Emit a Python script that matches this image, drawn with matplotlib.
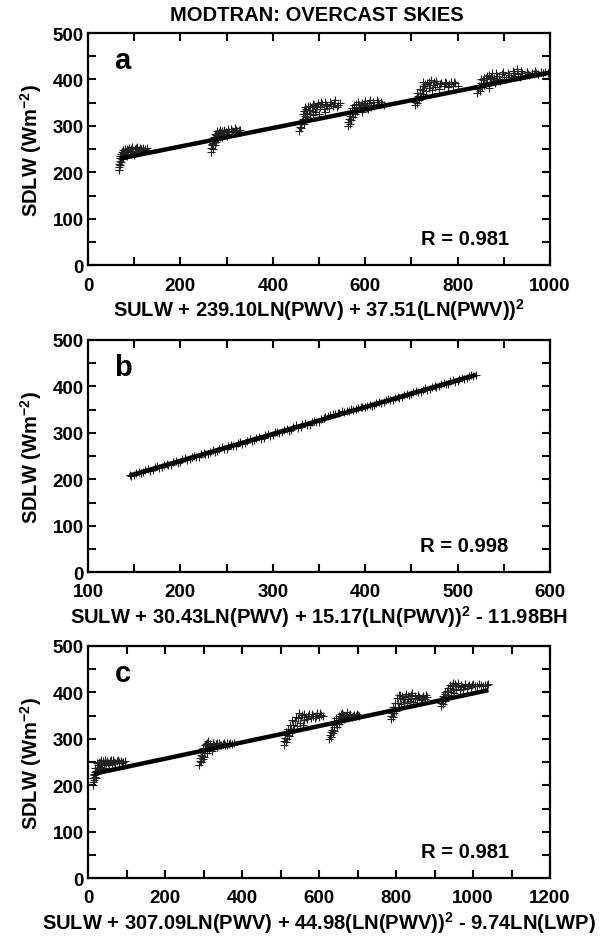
import matplotlib
matplotlib.use("Agg")
import matplotlib.pyplot as plt
from matplotlib.ticker import MultipleLocator

plt.rcParams['font.family'] = ['Liberation Sans', 'DejaVu Sans']
plt.rcParams['font.weight'] = 'bold'
plt.rcParams['mathtext.fontset'] = 'custom'
plt.rcParams['mathtext.rm'] = 'Liberation Sans:bold'
plt.rcParams['mathtext.bf'] = 'Liberation Sans:bold'

# ---------------------------------------------------------------
# panel a : SULW + 239.10LN(PWV) + 37.51(LN(PWV))^2
# ---------------------------------------------------------------
a_pts = [
    (66,205),(67,212),(68,218),(69,224),(70,215),(71,230),(72,222),(73,236),(74,228),(75,240),
    (76,233),(77,244),(78,238),(80,246),(82,240),(84,250),(86,243),(88,252),(90,246),(93,250),
    (96,254),(98,244),(101,251),(104,247),(107,254),(110,249),(113,252),(117,247),(120,253),(124,250),
    (128,252),(70,235),(74,245),(79,250),(85,236),(92,240),(100,238),
    (72,240),(76,248),(81,243),(87,248),(95,247),(103,253),(108,246),(115,250),(122,246),(127,249),
    (69,230),(73,232),
    (266,245),(267,252),(268,258),(270,250),(271,263),(273,268),(274,258),(276,273),(278,265),(280,280),
    (282,272),(284,285),(286,277),(289,290),(292,282),(295,292),(298,286),(302,294),(306,288),(310,293),
    (314,287),(318,295),(322,290),(326,292),(330,288),(270,270),(275,283),(279,290),(285,292),(290,276),
    (300,279),(272,276),(277,280),(283,288),(288,284),(294,288),(304,290),(312,289),(320,291),(328,291),
    (268,262),(281,276),
    (457,290),(458,298),(460,304),(462,296),(463,310),(465,316),(467,305),(469,322),(471,314),(473,328),
    (475,320),(478,334),(481,326),(484,340),(487,332),(490,345),(494,337),(498,350),(502,340),(506,347),
    (510,336),(514,352),(518,343),(522,338),(526,348),(530,342),(535,355),(540,345),(545,350),(468,332),
    (476,342),(492,330),(500,326),(512,330),(466,325),(472,336),(480,344),(486,348),(496,344),(504,352),
    (516,346),(524,352),(532,350),(538,340),(470,340),(488,324),
    (562,300),(563,308),(565,315),(566,305),(568,322),(570,312),(572,328),(574,319),(576,334),(578,326),
    (580,340),(583,332),(586,346),(589,338),(592,350),(596,342),(600,354),(604,345),(608,350),(612,340),
    (616,352),(620,346),(625,355),(630,348),(635,352),(640,346),(575,345),(584,352),(594,330),(606,336),
    (571,338),(579,348),(587,340),(597,348),(603,338),(610,356),(618,344),(628,352),(637,348),(567,330),
    (707,345),(708,352),(710,358),(712,349),(714,364),(716,356),(718,370),(720,362),(722,378),(725,368),
    (728,385),(731,375),(734,392),(737,382),(740,388),(744,378),(748,395),(752,384),(756,390),(760,380),
    (765,393),(770,386),(775,392),(780,383),(785,395),(790,387),(795,392),(800,385),(726,395),(742,398),
    (713,372),(719,380),(724,386),(730,390),(738,394),(746,388),(754,396),(762,390),(772,394),(782,390),
    (792,395),
    (842,372),(844,380),(846,386),(848,376),(850,392),(852,383),(855,398),(858,389),(861,404),(864,394),
    (867,410),(870,400),(874,413),(878,404),(882,398),(886,408),(890,402),(895,412),(900,405),(905,400),
    (910,414),(915,406),(920,418),(925,408),(930,412),(935,405),(940,414),(945,410),(950,416),(955,409),
    (960,413),(965,411),(970,415),(975,412),(980,416),(985,413),(990,417),(995,414),(998,416),(880,392),
    (892,396),(928,422),(868,382),(851,400),(857,404),(863,408),(872,406),(884,414),(898,416),(912,410),
    (922,414),(938,418),(952,412),(968,418),(856,392),(876,396),
]
a_fit_x = [70, 1000]
a_fit_y = [230, 415]

# ---------------------------------------------------------------
# panel b : SULW + 30.43LN(PWV) + 15.17(LN(PWV))^2 - 11.98BH
# ---------------------------------------------------------------
b_x = [145,150,155,160,165,170,175,180,185,190,195,200,205,210,215,220,225,230,235,240,
       245,250,255,260,265,270,275,280,285,290,295,300,305,310,315,320,325,330,335,340,
       345,350,355,360,365,370,375,380,385,390,395,400,405,410,415,420,425,430,435,440,
       445,450,455,460,465,470,475,480,485,490,495,500,505,510,515,520,
       147,152,157,162,167,172,177,182,187,192,197,202,207,212,217,222,227,232,237,242,
       247,252,257,262,267,272,277,282,287,292,297,302,307,312,317,322,327,332,337,342,
       347,352,357,362,367,372,377,382,387,392,397,402,407,412,417,422,427,432,437,442,
       447,452,457,462,467,472,477,482,487,492,497,502,507,512,517]
b_y = [209,209,216,215,222,221,228,226,233,232,240,238,245,243,251,249,257,255,263,261,
       269,266,274,272,280,278,286,284,292,289,297,296,303,301,309,307,316,313,321,318,
       326,324,333,336,341,343,347,348,351,352,355,356,361,360,367,366,373,371,378,377,
       384,383,390,389,396,394,401,400,407,406,413,412,419,418,424,425,
       207,214,213,220,219,226,225,231,231,237,236,243,242,249,248,255,254,260,260,266,
       265,272,271,278,277,283,282,289,288,295,294,301,300,307,305,313,311,319,317,324,
       323,330,334,338,340,343,345,348,349,353,355,358,358,365,364,370,370,376,375,382,
       381,388,387,393,393,399,399,405,405,411,410,417,416,422,422]
b_fit_x = [145, 520]
b_fit_y = [208, 425]

# ---------------------------------------------------------------
# panel c : SULW + 307.09LN(PWV) + 44.98(LN(PWV))^2 - 9.74LN(LWP)
# ---------------------------------------------------------------
c_pts = [
    (12,200),(13,208),(14,215),(15,222),(16,212),(17,228),(18,218),(20,232),(22,224),(24,238),
    (26,230),(28,243),(30,236),(32,248),(35,240),(38,252),(41,245),(44,255),(47,248),(50,253),
    (54,245),(58,252),(62,247),(66,254),(70,249),(75,252),(80,250),(85,253),(90,251),(95,252),
    (20,215),(25,245),(34,254),(42,238),(19,238),(23,248),(29,250),(36,246),(45,250),(52,249),
    (60,255),(68,250),(78,254),(88,248),(16,225),
    (289,245),(290,252),(292,258),(294,250),(296,264),(298,257),(300,270),(302,262),(305,277),(308,269),
    (311,284),(314,276),(317,290),(320,282),(324,292),(328,285),(332,290),(336,283),(340,292),(345,286),
    (350,290),(355,288),(360,292),(365,289),(370,291),(375,290),(380,292),(306,290),(312,295),(322,275),
    (299,280),(304,286),(310,292),(318,286),(326,288),(334,292),(342,288),(352,292),(362,288),(293,265),
    (509,288),(510,296),(512,302),(514,294),(516,308),(518,300),(520,315),(523,307),(526,322),(529,314),
    (532,330),(535,321),(538,338),(542,328),(546,345),(550,335),(555,352),(560,340),(565,348),(570,342),
    (575,353),(580,345),(585,350),(590,344),(595,355),(600,348),(605,352),(610,349),(558,330),(548,355),
    (519,322),(525,330),(531,340),(540,348),(552,348),(562,354),(572,350),(582,354),(592,350),(602,355),
    (515,315),
    (627,300),(628,308),(630,314),(632,305),(634,320),(636,312),(638,326),(640,318),(643,332),(646,325),
    (649,340),(652,332),(655,346),(658,338),(662,352),(666,343),(670,350),(675,345),(680,353),(685,347),
    (690,352),(695,349),(700,351),(705,350),(660,356),(672,358),(633,330),(639,338),(645,345),(651,350),
    (657,354),(664,348),(677,352),(688,350),(698,354),
    (787,343),(788,350),(790,356),(792,348),(794,362),(796,355),(798,368),(801,360),(804,378),(807,368),
    (810,388),(813,375),(816,392),(820,380),(824,390),(828,378),(832,392),(836,382),(840,388),(845,380),
    (850,393),(855,385),(860,390),(865,383),(870,392),(875,386),(880,390),(808,395),(826,396),(842,398),
    (791,368),(797,378),(803,388),(811,394),(818,386),(830,386),(838,394),(848,388),(858,394),(868,388),
    (878,394),
    (917,370),(918,378),(920,384),(922,375),(924,390),(926,382),(928,396),(930,388),(933,404),(936,394),
    (939,410),(942,400),(945,415),(948,405),(952,418),(956,408),(960,413),(965,405),(970,416),(975,408),
    (980,414),(985,410),(990,417),(995,412),(1000,418),(1010,415),(1020,417),(1030,416),(1040,418),(950,398),
    (962,420),(1005,414),(921,392),(927,402),(934,410),(941,416),(947,420),(955,414),(968,412),(978,418),
    (988,414),(998,416),(1015,418),(1025,414),(1035,417),
]
c_fit_x = [15, 1040]
c_fit_y = [225, 405]

panels = [
    dict(letter='a', x=[p[0] for p in a_pts], y=[p[1] for p in a_pts], fx=a_fit_x, fy=a_fit_y,
         xlim=(0, 1000), xmaj=200, r='R = 0.981',
         xlabel='SULW + 239.10LN(PWV) + 37.51(LN(PWV))$^{2}$'),
    dict(letter='b', x=b_x, y=b_y, fx=b_fit_x, fy=b_fit_y,
         xlim=(100, 600), xmaj=100, r='R = 0.998',
         xlabel='SULW + 30.43LN(PWV) + 15.17(LN(PWV))$^{2}$ - 11.98BH'),
    dict(letter='c', x=[p[0] for p in c_pts], y=[p[1] for p in c_pts], fx=c_fit_x, fy=c_fit_y,
         xlim=(0, 1200), xmaj=200, r='R = 0.981',
         xlabel='SULW + 307.09LN(PWV) + 44.98(LN(PWV))$^{2}$ - 9.74LN(LWP)'),
]

fig = plt.figure(figsize=(6.1, 9.37), dpi=100)
tops = [0.9637, 0.6361, 0.3095]
h = 0.248

for p, top in zip(panels, tops):
    ax = fig.add_axes([0.1443, top - h, 0.7574, h])
    ax.plot(p['x'], p['y'], '+', color='#222222', ms=6, mew=0.8)
    ax.plot(p['fx'], p['fy'], '-', color='black', lw=3.2, solid_capstyle='butt')
    ax.set_xlim(*p['xlim'])
    ax.set_ylim(0, 500)
    ax.xaxis.set_major_locator(MultipleLocator(p['xmaj']))
    ax.xaxis.set_minor_locator(MultipleLocator(p['xmaj'] / 2))
    ax.yaxis.set_major_locator(MultipleLocator(100))
    ax.yaxis.set_minor_locator(MultipleLocator(50))
    ax.tick_params(which='both', direction='in', top=True, right=True, width=1.5,
                   labelsize=13.5, length=6)
    ax.tick_params(axis='x', pad=8)
    ax.tick_params(axis='y', pad=3)
    for s in ax.spines.values():
        s.set_linewidth(1.6)
    ax.set_ylabel('SDLW (Wm$^{-2}$)', fontsize=14.5, fontweight='bold', labelpad=6)
    ax.set_xlabel(p['xlabel'], fontsize=14.5, fontweight='bold', labelpad=2)
    ax.text(0.075, 0.885, p['letter'], transform=ax.transAxes, fontsize=21,
            fontweight='bold', ha='center', va='center')
    ax.text(0.815, 0.115, p['r'], transform=ax.transAxes, fontsize=14.5,
            fontweight='bold', ha='center', va='center')

fig.text(0.52, 0.983, 'MODTRAN: OVERCAST SKIES', ha='center', va='center',
         fontsize=14.5, fontweight='bold')

fig.savefig('out.png', dpi=100)
